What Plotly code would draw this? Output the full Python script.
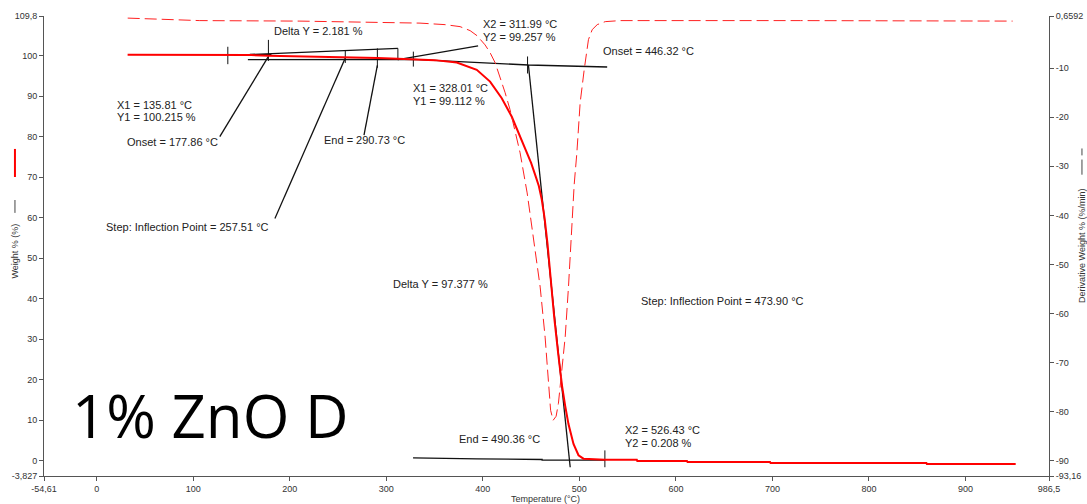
import plotly.graph_objects as go

# ---------------- data ----------------
# Weight % curve (left axis)
temp_w = [32, 80, 136, 160, 178, 220, 258, 291, 312, 328, 350, 373, 393.7, 407.5, 419.6,
          430, 440.4, 445, 450, 455, 458, 461, 464, 467, 470, 474, 478, 482, 485.3, 488.7,
          493.9, 499.1, 504.2, 515, 526.4, 559.5, 560, 611.5, 612, 697.5, 698, 859.5, 860, 952]
weight = [100.25, 100.23, 100.215, 100.15, 100.0, 99.85, 99.6, 99.42, 99.257, 99.112, 98.9,
          98.3, 96.5, 93.6, 89.5, 84.9, 79.2, 76.6, 73.5, 70.0, 67.8, 64.5, 59.8, 53.5, 45.5,
          35.2, 26.5, 18.5, 13.5, 9.0, 4.1, 1.3, 0.45, 0.3, 0.21, 0.18, -0.15, -0.15, -0.35,
          -0.35, -0.6, -0.6, -0.85, -0.85]

# Derivative weight % curve (right axis)
temp_d = [32.1, 106.8, 210.5, 293.4, 334.9, 360.8, 376.4, 386.8, 394.0, 402.3, 407.5, 412.7,
          417.9, 423.1, 428.2, 433.4, 438.6, 445.9, 452.1, 459.4, 464.5, 467.6, 470.2, 472.8,
          475.9, 478.3, 481.9, 485.3, 488.7, 492.2, 494.6, 497.4, 500.8, 505.0, 509.4, 513.3,
          518.5, 526.8, 542.3, 729.0, 948.8]
deriv = [0.23, -0.28, -0.38, -0.59, -0.79, -1.10, -1.51, -2.32, -3.36, -5.23, -6.82, -8.86,
         -11.72, -14.99, -18.46, -22.55, -27.25, -35.42, -44.41, -54.63, -64.84, -73.63,
         -79.76, -81.80, -80.98, -78.33, -71.59, -64.84, -54.63, -40.94, -33.79, -27.25,
         -17.03, -10.29, -4.16, -2.12, -1.10, -0.49, -0.28, -0.28, -0.38]

# Analysis marker ticks (vertical short lines)
tick_T = [135.81, 135.81, None, 177.86, 177.86, None, 257.51, 257.51, None,
          290.73, 290.73, None, 311.99, 311.99, None, 328.01, 328.01, None,
          446.32, 446.32, None, 526.43, 526.43]
tick_W = [102.2, 97.9, None, 103.9, 98.7, None, 101.4, 98.2, None,
          101.8, 97.0, None, 101.8, 98.9, None, 101.0, 97.3, None,
          99.8, 95.6, None, 2.5, -1.66]

# Tangent / baseline construction lines
tan_T = [135.81, 181, None, 158.6, 290.73, 311.99, None,
         156.6, 328, 447.2, 528.8, None,
         447.2, 490.5, None,
         327.7, 394, 394, 461.4, 461.4, 526.8]
tan_W = [100.25, 100.25, None, 100.3, 101.7, 101.8, None,
         99.0, 99.1, 97.7, 97.2, None,
         97.7, -1.66, None,
         0.67, 0.57, 0.4, 0.25, 0.12, 0.07]

# Label leader lines
lead_T = [177.6, 127.5, None, 257.51, 184.6, None, 290.73, 276.9, None, 311.99, 395.1]
lead_W = [99.7, 80.0, None, 99.4, 59.8, None, 97.6, 80.4, None, 99.05, 102.4]

# Text labels
ann_text = ["Delta Y = 2.181 %", "X2 = 311.99 °C", "Y2 = 99.257 %", "Onset = 446.32 °C",
            "X1 = 135.81 °C", "Y1 = 100.215 %", "Onset = 177.86 °C", "End = 290.73 °C",
            "X1 = 328.01 °C", "Y1 = 99.112 %", "Step: Inflection Point = 257.51 °C",
            "Delta Y = 97.377 %", "Step: Inflection Point = 473.90 °C", "End = 490.36 °C",
            "X2 = 526.43 °C", "Y2 = 0.208 %"]
ann_T = [182.5, 398.9, 398.9, 523.6, 20.4, 20.4, 30.1, 234.7, 326.3, 326.3, 8.3, 305.6,
         562.3, 374.6, 546.5, 546.5]
ann_W = [106.1, 107.8, 104.6, 101.2, 87.8, 84.8, 78.7, 79.1, 92.1, 88.9, 57.7, 43.5,
         39.4, 5.4, 7.6, 4.4]

x_tickvals = [-54.61, 0, 100, 200, 300, 400, 500, 600, 700, 800, 900, 986.5]
x_ticktext = ["-54,61", "0", "100", "200", "300", "400", "500", "600", "700", "800", "900", "986,5"]
y_tickvals = [-3.827, 0, 10, 20, 30, 40, 50, 60, 70, 80, 90, 100, 109.8]
y_ticktext = ["-3,827", "0", "10", "20", "30", "40", "50", "60", "70", "80", "90", "100", "109,8"]
y2_tickvals = [-93.16, -90, -80, -70, -60, -50, -40, -30, -20, -10, 0.6592]
y2_ticktext = ["-93,16", "-90", "-80", "-70", "-60", "-50", "-40", "-30", "-20", "-10", "0,6592"]

FONT = "Liberation Sans, Arial, sans-serif"
AX = "#555555"
TXT = "#333333"

fig = go.Figure()
fig.add_trace(go.Scatter(x=temp_d, y=deriv, yaxis="y2", mode="lines",
                         line=dict(color="#ff2020", width=1, dash="12px,5px"), hoverinfo="skip"))
fig.add_trace(go.Scatter(x=tan_T, y=tan_W, mode="lines", connectgaps=False,
                         line=dict(color="#111111", width=1.3), hoverinfo="skip"))
fig.add_trace(go.Scatter(x=tick_T, y=tick_W, mode="lines", connectgaps=False,
                         line=dict(color="#111111", width=1), hoverinfo="skip"))
fig.add_trace(go.Scatter(x=lead_T, y=lead_W, mode="lines", connectgaps=False,
                         line=dict(color="#111111", width=1.3), hoverinfo="skip"))
fig.add_trace(go.Scatter(x=temp_w, y=weight, mode="lines",
                         line=dict(color="#ff0000", width=2), hoverinfo="skip"))

annotations = []
for t, tx, w in zip(ann_text, ann_T, ann_W):
    annotations.append(dict(x=tx, y=w, xref="x", yref="y", text=t, showarrow=False,
                            xanchor="left", yanchor="middle", borderpad=0,
                            font=dict(family=FONT, size=11, color="#222222")))

# big sample label
annotations.append(dict(x=0.026, y=0.133, xref="paper", yref="paper", text="1% ZnO D",
                        showarrow=False, xanchor="left", yanchor="middle",
                        font=dict(family="Open Sans, sans-serif", size=60, color="#000000")))
# axis titles
annotations.append(dict(x=0.4995, y=-0.049, xref="paper", yref="paper", text="Temperature (°C)",
                        showarrow=False, xanchor="center", yanchor="middle",
                        font=dict(family=FONT, size=9, color=TXT)))
annotations.append(dict(x=-0.0289, y=0.49, xref="paper", yref="paper", text="Weight % (%)",
                        showarrow=False, textangle=-90, xanchor="center", yanchor="middle",
                        font=dict(family=FONT, size=9, color=TXT)))
annotations.append(dict(x=1.0328, y=0.5, xref="paper", yref="paper",
                        text="Derivative Weight % (%/min)",
                        showarrow=False, textangle=-90, xanchor="center", yanchor="middle",
                        font=dict(family=FONT, size=9, color=TXT)))

shapes = [
    dict(type="line", xref="paper", yref="paper", x0=-0.0289, x1=-0.0289, y0=0.650, y1=0.711,
         line=dict(color="#ff0000", width=2)),
    dict(type="line", xref="paper", yref="paper", x0=-0.0289, x1=-0.0289, y0=0.572, y1=0.600,
         line=dict(color="#444444", width=1)),
    dict(type="line", xref="paper", yref="paper", x0=1.0328, x1=1.0328, y0=0.655, y1=0.688,
         line=dict(color="#444444", width=1)),
    dict(type="line", xref="paper", yref="paper", x0=1.0328, x1=1.0328, y0=0.697, y1=0.712,
         line=dict(color="#444444", width=1)),
]

axis_common = dict(showgrid=False, zeroline=False, showline=True, linecolor=AX, linewidth=1,
                   ticks="outside", ticklen=4, tickcolor=AX, automargin=False,
                   tickfont=dict(family=FONT, size=9, color=TXT))

fig.update_layout(
    width=1087, height=504,
    margin=dict(l=44, r=38, t=16, b=28, pad=0),
    paper_bgcolor="white", plot_bgcolor="white",
    showlegend=False,
    xaxis=dict(range=[-54.61, 986.5], tickmode="array", tickvals=x_tickvals,
               ticktext=x_ticktext, **axis_common),
    yaxis=dict(range=[-3.827, 109.8], tickmode="array", tickvals=y_tickvals,
               ticktext=y_ticktext, **axis_common),
    yaxis2=dict(range=[-93.16, 0.6592], overlaying="y", side="right", tickmode="array",
                tickvals=y2_tickvals, ticktext=y2_ticktext, **axis_common),
    annotations=annotations,
    shapes=shapes,
)

# remove the default page margin so the 1087x504 figure fills the window exactly
fig.write_html("out.html",
               config={"displayModeBar": False},
               post_script="document.body.style.margin='0';document.body.style.overflow='hidden';")
